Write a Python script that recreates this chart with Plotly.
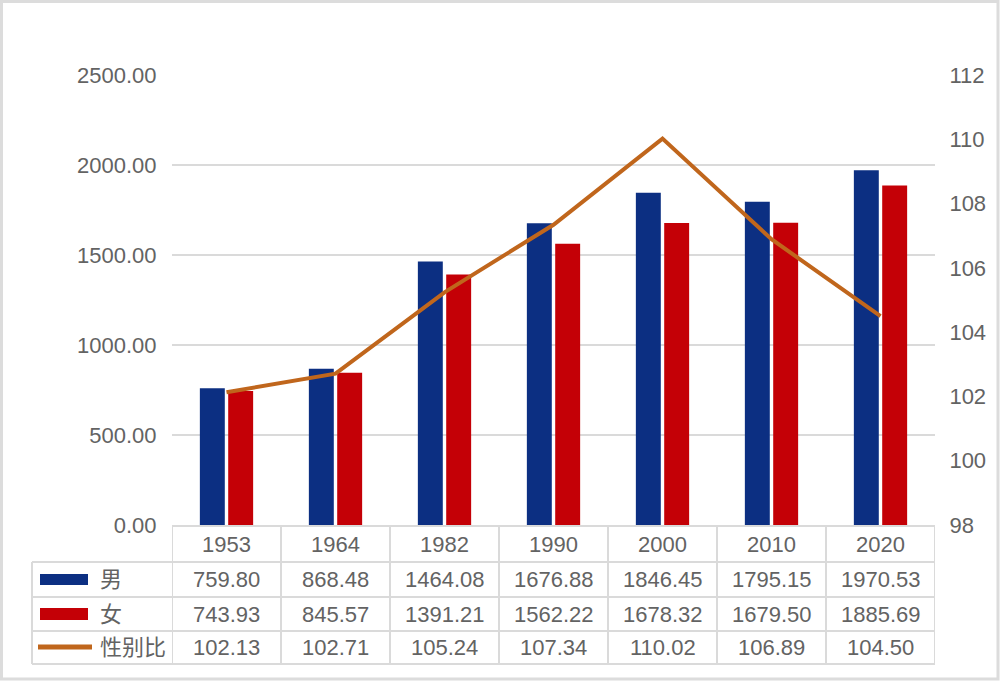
import plotly.graph_objects as go

years = ["1953", "1964", "1982", "1990", "2000", "2010", "2020"]
male = [759.80, 868.48, 1464.08, 1676.88, 1846.45, 1795.15, 1970.53]
female = [743.93, 845.57, 1391.21, 1562.22, 1678.32, 1679.50, 1885.69]
ratio = [102.13, 102.71, 105.24, 107.34, 110.02, 106.89, 104.50]
row_names = ["男", "女", "性别比"]

FONT = "Liberation Sans, Noto Sans CJK SC, Arial, sans-serif"
TXT = "#636363"
GRID = "#dadada"
BLUE = "#0c2f82"
RED = "#c40006"
ORANGE = "#c0661c"
FS = 22

W, H = 1000, 681
L, R, T, B = 172, 65, 75, 156
PW, PH = W - L - R, H - T - B


def px_x(p):
    return (p - L) / PW


def px_y(p):
    return (H - B - p) / PH


fig = go.Figure()
fig.add_trace(go.Bar(x=years, y=male, name=row_names[0], marker=dict(color=BLUE, line=dict(width=0))))
fig.add_trace(go.Bar(x=years, y=female, name=row_names[1], marker=dict(color=RED, line=dict(width=0))))
fig.add_trace(go.Scatter(x=years, y=ratio, name=row_names[2], yaxis="y2", mode="lines",
                         line=dict(color=ORANGE, width=4)))

shapes = []
annotations = []

# outer frame
shapes.append(dict(type="rect", xref="paper", yref="paper",
                   x0=px_x(1.5), x1=px_x(998), y0=px_y(679), y1=px_y(1.5),
                   line=dict(color="#dcdcdc", width=3), layer="below"))

# table geometry (pixel rows)
row_lines = [526, 562, 597, 631, 664]
label_left = 32
n = len(years)
shapes.append(dict(type="line", xref="paper", yref="paper", x0=0, x1=1,
                   y0=px_y(row_lines[0]), y1=px_y(row_lines[0]), line=dict(color=GRID, width=2)))
for r in row_lines[1:]:
    shapes.append(dict(type="line", xref="paper", yref="paper", x0=px_x(label_left), x1=1,
                       y0=px_y(r), y1=px_y(r), line=dict(color=GRID, width=2)))
for k in range(n + 1):
    shapes.append(dict(type="line", xref="x", yref="paper", x0=k - 0.5, x1=k - 0.5,
                       y0=px_y(row_lines[0]), y1=px_y(row_lines[-1]), line=dict(color=GRID, width=2)))
shapes.append(dict(type="line", xref="paper", yref="paper", x0=px_x(label_left), x1=px_x(label_left),
                   y0=px_y(row_lines[1]), y1=px_y(row_lines[-1]), line=dict(color=GRID, width=2)))

centers = [(row_lines[i] + row_lines[i + 1]) / 2 for i in range(4)]

for i, yv in enumerate(years):
    annotations.append(dict(x=i, y=px_y(centers[0]), xref="x", yref="paper", text=yv,
                            showarrow=False, xanchor="center", yanchor="middle",
                            font=dict(size=FS, color=TXT, family=FONT)))

rows = [male, female, ratio]
for r, vals in enumerate(rows):
    for i, v in enumerate(vals):
        annotations.append(dict(x=i, y=px_y(centers[r + 1]), xref="x", yref="paper",
                                text=f"{v:.2f}", showarrow=False, xanchor="center", yanchor="middle",
                                font=dict(size=FS, color=TXT, family=FONT)))
    annotations.append(dict(x=px_x(98), y=px_y(centers[r + 1]), xref="paper", yref="paper",
                            text=row_names[r], showarrow=False, xanchor="left", yanchor="middle",
                            font=dict(size=FS, color=TXT, family=FONT)))

# legend keys
shapes.append(dict(type="rect", xref="paper", yref="paper", x0=px_x(40), x1=px_x(88),
                   y0=px_y(585), y1=px_y(574), fillcolor=BLUE, line=dict(width=0)))
shapes.append(dict(type="rect", xref="paper", yref="paper", x0=px_x(40), x1=px_x(88),
                   y0=px_y(620), y1=px_y(608), fillcolor=RED, line=dict(width=0)))
shapes.append(dict(type="line", xref="paper", yref="paper", x0=px_x(38), x1=px_x(92),
                   y0=px_y(647), y1=px_y(647), line=dict(color=ORANGE, width=5)))

fig.update_layout(
    width=W, height=H,
    margin=dict(l=L, r=R, t=T, b=B, pad=0),
    paper_bgcolor="white", plot_bgcolor="white",
    barmode="group", bargap=0.48, bargroupgap=0.12,
    showlegend=False,
    font=dict(family=FONT, size=FS, color=TXT),
    xaxis=dict(type="category", range=[-0.5, n - 0.5], showticklabels=False,
               showgrid=False, zeroline=False, showline=False, fixedrange=True),
    yaxis=dict(range=[0, 2500], tickvals=[0, 500, 1000, 1500, 2000, 2500], tickformat=".2f",
               showgrid=True, gridcolor=GRID, gridwidth=1.5, zeroline=False, showline=False,
               ticks="outside", ticklen=10, tickcolor="rgba(0,0,0,0)",
               tickfont=dict(size=FS, color=TXT, family=FONT)),
    yaxis2=dict(range=[98, 112], tickvals=[98, 100, 102, 104, 106, 108, 110, 112],
                overlaying="y", side="right", showgrid=False, zeroline=False, showline=False,
                ticks="outside", ticklen=9, tickcolor="rgba(0,0,0,0)",
                tickfont=dict(size=FS, color=TXT, family=FONT)),
    shapes=shapes,
    annotations=annotations,
)

fig.write_html("out.html", config={"displayModeBar": False},
               post_script="document.body.style.margin='0';document.body.style.overflow='hidden';")
